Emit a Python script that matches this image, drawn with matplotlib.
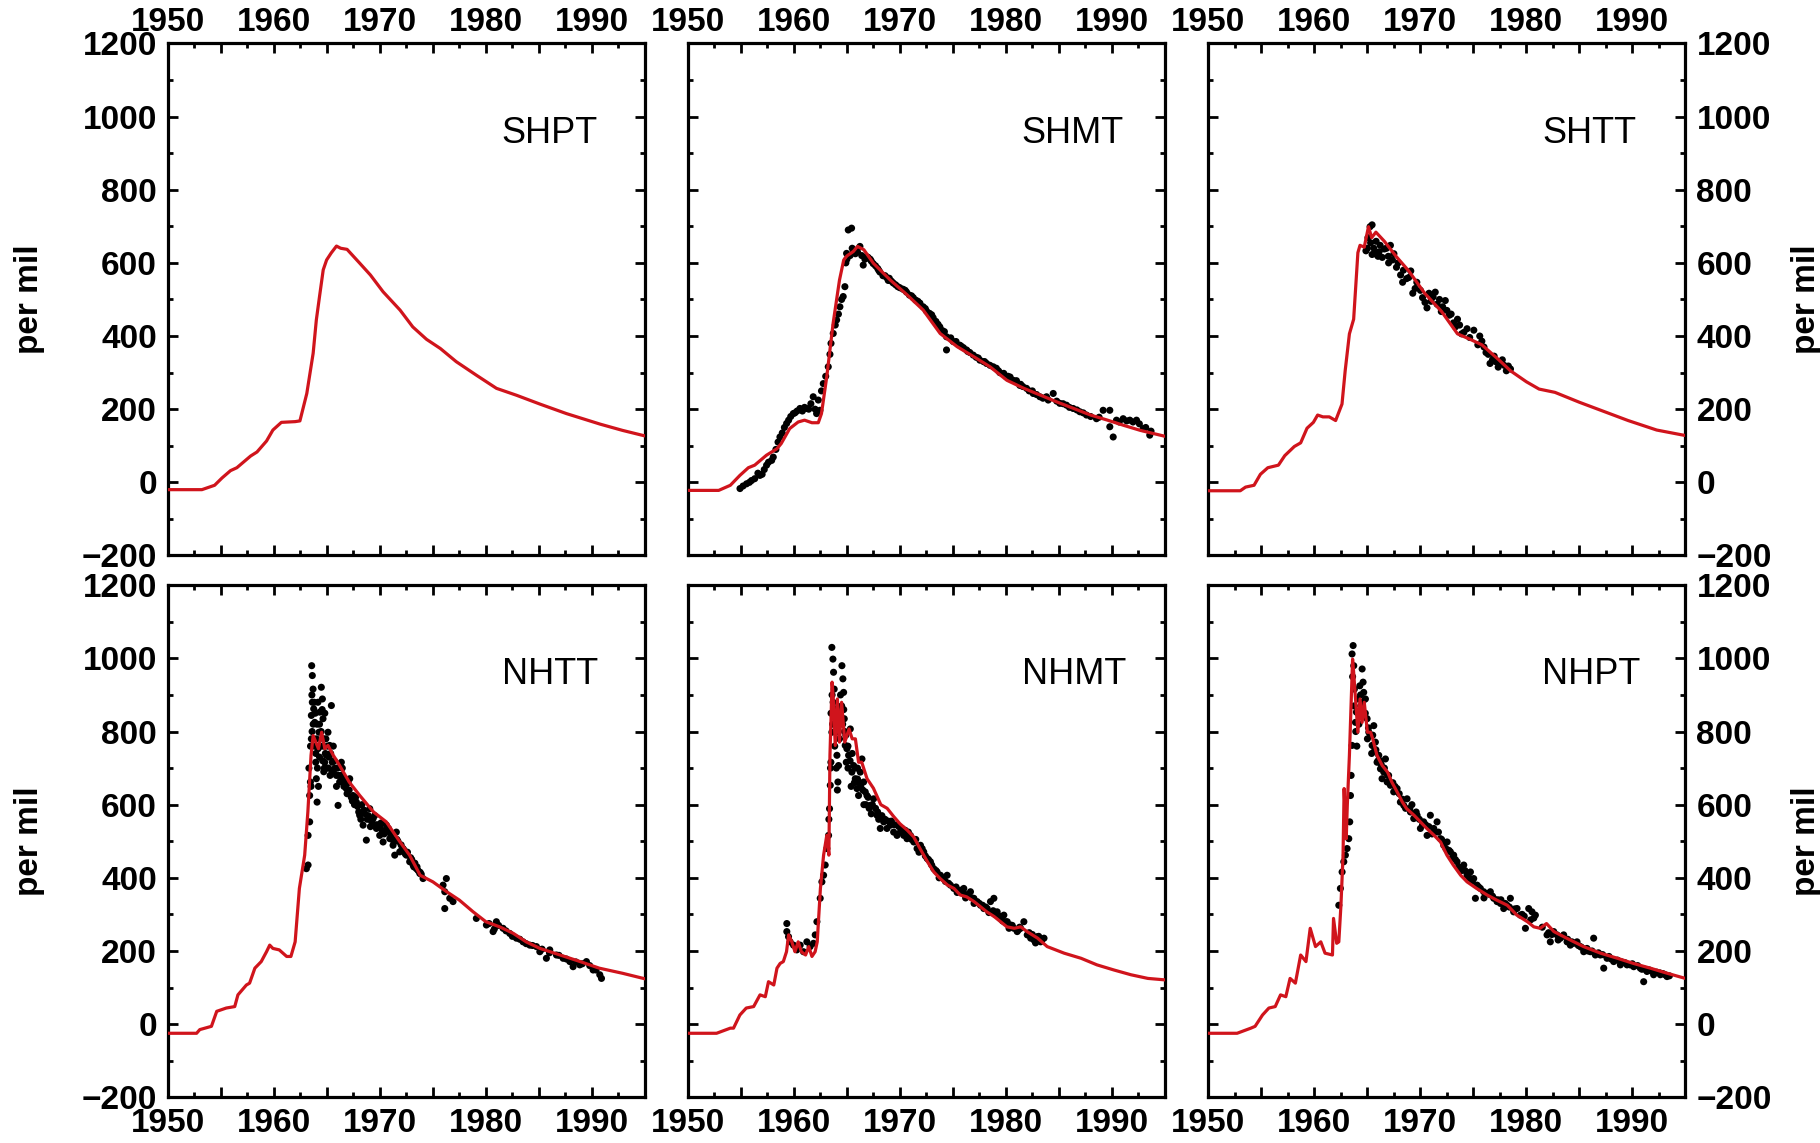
import matplotlib
matplotlib.use("Agg")
import matplotlib.pyplot as plt
from matplotlib.ticker import MultipleLocator, FuncFormatter

plt.rcParams["font.family"] = ["Liberation Sans", "DejaVu Sans"]

# ---- model curves (red) ----
shpt_year = [1950, 1953.2, 1954.4, 1955.1, 1955.9, 1956.5, 1957.8, 1958.4, 1959.3, 1959.9, 1960.7, 1962.0,
             1962.45, 1963.1, 1963.7, 1964.0, 1964.3, 1964.65, 1964.97, 1965.4, 1965.9, 1966.3, 1966.9,
             1968.1, 1969.1, 1970.3, 1971.9, 1973.1, 1974.4, 1975.7, 1977.2, 1979.1, 1981.0, 1982.9,
             1985.1, 1987.6, 1990.8, 1992.9, 1995]
shpt_val = [-20, -20, -8, 12, 32, 40, 72, 83, 113, 143, 164, 166, 168, 243, 353, 444, 508, 581, 608, 627,
            646, 640, 637, 599, 567, 521, 471, 425, 391, 366, 330, 293, 257, 238, 214, 188, 159, 142, 127]

shmt_year = [1950, 1952.9, 1954.0, 1954.9, 1955.7, 1956.3, 1957.4, 1958.4, 1958.8, 1959.6, 1960.4, 1961.0,
             1961.7, 1962.3, 1962.6, 1963.1, 1963.7, 1964.3, 1964.7, 1965.0, 1965.6, 1966.0, 1966.6, 1967.5,
             1969.1, 1970.7, 1972.2, 1973.8, 1975.4, 1977.0, 1978.5, 1980.1, 1981.7, 1983.3, 1984.8, 1986.4,
             1988.0, 1989.6, 1991.1, 1992.7, 1995]
shmt_val = [-22, -22, -8, 19, 40, 47, 74, 92, 106, 147, 165, 170, 163, 163, 188, 289, 435, 553, 608, 619,
            631, 645, 636, 599, 553, 512, 471, 407, 371, 343, 316, 279, 257, 238, 220, 202, 184, 170, 156,
            142, 126]

shtt_year = [1950, 1953.0, 1953.5, 1954.3, 1954.9, 1955.6, 1956.6, 1957.2, 1958.1, 1958.7, 1959.3, 1959.9,
             1960.3, 1960.8, 1961.4, 1962.0, 1962.6, 1962.9, 1963.3, 1963.7, 1964.1, 1964.3, 1964.7, 1965.1,
             1965.4, 1965.8, 1966.6, 1967.7, 1968.9, 1970.4, 1972.0, 1973.5, 1974.7, 1975.8, 1977.4, 1978.5,
             1980.0, 1981.2, 1982.7, 1985.0, 1987.3, 1989.6, 1992.3, 1995]
shtt_val = [-23, -23, -13, -8, 22, 40, 47, 73, 98, 108, 148, 164, 184, 179, 179, 169, 214, 305, 406, 446,
            628, 648, 643, 699, 669, 684, 659, 618, 578, 517, 467, 406, 391, 376, 335, 305, 275, 255, 246,
            219, 194, 169, 143, 128]

nhtt_year = [1950, 1952.7, 1953.0, 1954.1, 1954.6, 1955.5, 1956.3, 1956.6, 1957.4, 1957.7, 1958.2, 1958.8,
             1959.3, 1959.6, 1959.9, 1960.5, 1961.2, 1961.6, 1962.0, 1962.4, 1962.9, 1963.2, 1963.5, 1963.7,
             1964.2, 1964.5, 1964.8, 1965.1, 1965.6, 1966.2, 1967.1, 1968.1, 1969.4, 1970.6, 1971.9, 1972.8,
             1973.8, 1975.0, 1976.3, 1977.5, 1978.8, 1980.0, 1981.3, 1982.6, 1983.8, 1985.1, 1987.0, 1988.9,
             1990.7, 1992.9, 1995]
nhtt_val = [-25, -25, -15, -6, 35, 44, 48, 80, 107, 112, 153, 171, 198, 216, 207, 203, 185, 185, 225, 371,
            462, 580, 735, 789, 753, 798, 753, 762, 735, 707, 662, 625, 580, 553, 498, 462, 407, 389, 362,
            339, 307, 280, 266, 248, 225, 207, 189, 171, 153, 139, 124]

nhmt_year = [1950, 1952.7, 1954.0, 1954.3, 1954.9, 1955.5, 1956.2, 1956.8, 1957.3, 1957.6, 1958.1, 1958.4,
             1958.7, 1959.0, 1959.3, 1959.5, 1959.8, 1960.1, 1960.4, 1960.7, 1961.1, 1961.4, 1961.7, 1962.0,
             1962.2, 1962.5, 1962.8, 1963.1, 1963.3, 1963.4, 1963.6, 1963.7, 1963.9, 1964.1, 1964.3, 1964.5,
             1964.8, 1965.2, 1965.5, 1965.8, 1966.1, 1966.4, 1966.9, 1967.5, 1968.2, 1968.8, 1969.4, 1970.0,
             1970.7, 1971.3, 1971.9, 1972.6, 1973.2, 1973.8, 1974.5, 1975.1, 1975.7, 1976.3, 1977.0, 1977.6,
             1978.2, 1978.9, 1979.5, 1980.1, 1980.8, 1981.4, 1982.0, 1983.0, 1983.9, 1985.5, 1987.1, 1988.6,
             1990.2, 1991.8, 1993.4, 1995]
nhmt_val = [-25, -25, -11, -11, 25, 44, 48, 80, 75, 116, 107, 153, 166, 171, 198, 244, 225, 198, 225, 198,
            189, 212, 185, 198, 225, 371, 462, 516, 462, 735, 935, 898, 762, 889, 771, 880, 771, 807, 780,
            780, 716, 716, 671, 645, 600, 590, 568, 548, 530, 512, 480, 444, 416, 398, 380, 371, 353, 348,
            335, 321, 307, 294, 280, 266, 262, 266, 253, 235, 212, 194, 180, 162, 148, 135, 125, 121]

nhpt_year = [1950, 1952.7, 1954.0, 1954.4, 1955.1, 1955.7, 1956.3, 1956.8, 1957.3, 1957.7, 1958.2, 1958.7,
             1959.2, 1959.6, 1960.1, 1960.6, 1961.0, 1961.7, 1961.8, 1962.1, 1962.3, 1962.5, 1962.7, 1962.8,
             1963.0, 1963.1, 1963.3, 1963.6, 1963.7, 1963.9, 1964.1, 1964.3, 1964.5, 1964.7, 1965.0, 1965.3,
             1965.5, 1965.9, 1966.4, 1966.9, 1967.3, 1967.8, 1968.3, 1968.7, 1969.4, 1970.0, 1970.6, 1971.3,
             1971.9, 1972.5, 1973.1, 1973.8, 1974.4, 1975.3, 1976.3, 1977.2, 1978.2, 1979.1, 1980.1, 1980.7,
             1981.3, 1981.9, 1982.6, 1983.8, 1985.4, 1987.0, 1988.6, 1990.1, 1991.7, 1993.3, 1995]
nhpt_val = [-25, -25, -11, -6, 25, 44, 48, 80, 75, 125, 112, 189, 171, 262, 212, 225, 194, 189, 289, 221,
            225, 325, 462, 644, 507, 598, 735, 998, 962, 880, 798, 889, 825, 880, 798, 798, 780, 735, 707,
            689, 662, 635, 607, 589, 571, 553, 535, 516, 498, 462, 435, 407, 389, 371, 353, 339, 325, 298,
            280, 266, 262, 275, 253, 235, 212, 194, 180, 166, 153, 139, 125]

# ---- observations (black dots) ----
shmt_obs_year = [1954.91, 1955.53, 1956.0, 1956.79, 1957.42, 1958.05, 1958.68, 1959.31, 1959.94, 1960.57,
                 1961.19, 1961.82, 1962.14, 1962.45, 1962.77, 1963.24, 1963.71, 1964.03, 1964.34, 1964.65,
                 1964.81, 1964.97, 1965.13, 1965.44, 1965.6, 1966.23, 1966.54, 1966.86, 1967.48, 1968.11,
                 1968.74, 1969.37, 1970.0, 1970.63, 1971.26, 1971.89, 1972.52, 1973.14, 1973.77, 1974.4,
                 1974.4, 1975.03, 1975.66, 1976.29, 1976.92, 1977.55, 1978.18, 1978.81, 1979.43, 1980.06,
                 1980.69, 1981.32, 1981.95, 1982.58, 1983.21, 1983.84, 1984.47, 1985.09, 1985.72, 1986.35,
                 1986.98, 1987.61, 1988.55, 1989.18, 1989.81, 1990.13, 1989.81, 1990.44, 1991.07, 1991.7,
                 1992.33, 1992.96, 1993.58,
                 1955.2, 1955.8, 1956.3, 1956.6, 1957.0, 1957.2, 1957.6, 1957.9, 1958.3, 1958.5, 1958.9,
                 1959.1, 1959.5, 1959.7, 1960.1, 1960.3, 1960.8, 1961.0, 1961.4, 1961.6, 1962.0, 1962.3,
                 1962.6, 1963.0, 1963.4, 1963.5, 1963.9, 1964.2, 1964.5, 1964.9, 1965.0, 1965.3, 1965.5,
                 1965.8, 1966.0, 1966.4, 1966.7, 1967.0, 1967.2, 1967.7, 1968.0, 1968.4, 1968.9, 1969.2,
                 1969.6, 1970.3, 1970.9, 1971.5, 1972.2, 1972.8, 1973.4, 1974.0, 1974.8, 1975.3, 1976.0,
                 1976.6, 1977.2, 1977.9, 1978.5, 1979.1, 1979.8, 1980.4, 1981.0, 1981.6, 1982.2, 1982.9,
                 1983.5, 1984.0, 1984.8, 1985.4, 1986.0, 1986.7, 1987.3, 1988.0, 1988.8, 1990.7, 1991.4,
                 1992.0, 1992.6, 1993.2, 1993.7,
                 1967.3, 1967.9, 1968.6, 1969.0, 1969.8, 1970.5, 1971.1, 1971.7, 1972.4, 1973.0, 1973.6,
                 1974.2, 1975.8, 1976.4, 1977.4, 1978.0, 1979.3, 1980.2, 1981.4, 1982.5, 1983.8]
shmt_obs_val = [-17, -4, 5, 19, 47, 69, 124, 161, 188, 202, 202, 234, 188, 197, 270, 316, 407, 444, 480, 508,
                535, 626, 690, 695, 631, 645, 594, 617, 598, 575, 560, 545, 532, 520, 505, 490, 468, 450, 425,
                398, 362, 385, 375, 362, 348, 334, 325, 316, 300, 288, 279, 265, 257, 243, 234, 234, 243, 216,
                211, 202, 193, 184, 174, 197, 197, 124, 152, 170, 174, 170, 170, 147, 129,
                -10, 0, 10, 25, 22, 35, 55, 60, 90, 110, 135, 150, 170, 180, 190, 195, 195, 205, 200, 215,
                200, 225, 250, 290, 350, 380, 430, 460, 500, 600, 610, 620, 640, 625, 630, 620, 610, 615,
                610, 592, 580, 565, 552, 550, 540, 528, 512, 498, 480, 462, 440, 415, 395, 385, 368, 355,
                342, 330, 320, 312, 298, 288, 278, 262, 250, 240, 230, 225, 222, 215, 205, 198, 190, 180,
                178, 165, 168, 165, 160, 150, 140,
                605, 585, 565, 558, 535, 525, 510, 495, 475, 458, 432, 412, 372, 358, 340, 330, 305, 290,
                268, 250, 232]

shtt_obs_year = [1964.86, 1965.05, 1965.25, 1965.44, 1965.44, 1965.82, 1966.0, 1966.2, 1966.6, 1966.97,
                 1967.17, 1967.36, 1967.74, 1968.13, 1968.32, 1968.7, 1969.09, 1969.28, 1969.66, 1970.43,
                 1970.62, 1970.81, 1971.2, 1971.58, 1971.97, 1972.35, 1972.73, 1973.12, 1973.5, 1973.89,
                 1974.65, 1975.04, 1975.42, 1975.8, 1976.19, 1976.57, 1976.96, 1977.34, 1977.73, 1978.11,
                 1978.5,
                 1965.0, 1965.3, 1965.6, 1965.7, 1966.1, 1966.4, 1966.8, 1967.0, 1967.5, 1967.9, 1968.4,
                 1968.9, 1969.5, 1970.0, 1970.2, 1971.0, 1971.4, 1971.8, 1972.1, 1972.5, 1972.9, 1973.3,
                 1973.7, 1974.1, 1974.4, 1975.6, 1976.0, 1976.4, 1976.8, 1977.1, 1977.5, 1977.9, 1978.3]
shtt_obs_val = [633, 669, 699, 704, 623, 659, 618, 648, 638, 618, 648, 608, 588, 567, 547, 557, 578, 517,
                547, 492, 477, 517, 507, 487, 467, 497, 457, 436, 446, 406, 396, 416, 376, 386, 355, 325,
                345, 315, 335, 305, 310,
                640, 655, 640, 625, 630, 615, 640, 600, 625, 600, 580, 560, 530, 525, 505, 495, 520, 500,
                480, 470, 460, 425, 430, 410, 420, 400, 370, 350, 335, 330, 325, 320, 318]

nhtt_obs_year = [1963.06, 1963.22, 1963.22, 1963.37, 1963.37, 1963.44, 1963.53, 1963.53, 1963.62, 1963.56,
                 1963.62, 1963.69, 1963.75, 1963.85, 1963.94, 1964.0, 1964.07, 1964.16, 1964.25, 1964.32,
                 1964.47, 1964.57, 1964.63, 1964.69, 1964.79, 1964.95, 1965.1, 1965.26, 1965.42, 1965.51,
                 1965.73, 1965.89, 1966.05, 1966.2, 1966.36, 1966.52, 1966.83, 1967.15, 1967.46, 1967.78,
                 1968.09, 1968.41, 1968.72, 1969.04, 1969.36, 1969.67, 1969.98, 1970.3, 1970.61, 1970.93,
                 1971.24, 1971.4, 1971.55, 1971.87, 1972.18, 1972.5, 1972.81, 1973.13, 1973.44, 1973.76,
                 1974.07, 1975.96, 1976.12, 1976.27, 1976.12, 1976.59, 1976.9, 1979.1, 1980.05, 1980.68,
                 1980.99, 1981.62, 1982.25, 1982.88, 1983.51, 1984.14, 1984.77, 1985.09, 1985.71, 1986.03,
                 1986.66, 1987.29, 1987.92, 1988.23, 1988.86, 1989.49, 1990.12, 1990.75, 1990.91,
                 1963.3, 1963.5, 1963.6, 1963.8, 1963.9, 1964.0, 1964.1, 1964.2, 1964.3, 1964.4, 1964.6,
                 1964.7, 1964.8, 1964.9, 1965.0, 1965.2, 1965.3, 1965.5, 1965.7, 1965.9, 1966.0, 1966.3,
                 1966.6, 1966.9, 1967.0, 1967.3, 1967.6, 1967.9, 1968.2, 1968.5, 1968.8, 1969.1, 1969.5,
                 1969.8, 1970.1, 1970.4, 1970.8, 1971.1, 1971.7, 1972.0, 1972.3, 1972.6, 1973.0, 1973.3,
                 1973.6, 1973.9, 1980.3, 1980.8, 1981.2, 1981.9, 1982.5, 1983.2, 1983.8, 1984.4, 1985.3,
                 1986.0, 1986.9, 1987.6, 1988.5, 1989.1, 1989.8, 1990.4,
                 1963.45, 1963.58, 1963.7, 1963.8, 1963.95, 1964.05, 1964.15, 1964.3, 1964.45, 1964.55,
                 1964.65, 1964.75, 1964.85, 1965.05, 1965.15, 1965.35, 1965.6, 1965.8, 1966.1, 1966.45,
                 1966.7, 1967.1, 1967.4, 1967.7, 1968.0, 1968.3, 1968.6, 1968.9, 1969.2, 1969.6, 1970.0,
                 1970.2, 1970.6, 1971.0, 1971.3, 1971.6, 1972.1, 1972.4, 1972.9, 1973.2, 1973.5, 1973.8]
nhtt_obs_val = [425, 435, 516, 553, 625, 662, 780, 844, 880, 980, 953, 916, 862, 825, 716, 671, 607, 753,
                798, 853, 921, 889, 835, 780, 716, 735, 798, 762, 871, 716, 698, 680, 598, 662, 716, 671,
                644, 671, 625, 607, 571, 544, 503, 589, 562, 535, 516, 498, 544, 507, 489, 462, 525, 471,
                480, 462, 444, 435, 425, 412, 398, 380, 362, 398, 316, 344, 335, 289, 271, 253, 280, 262,
                248, 235, 225, 216, 212, 198, 180, 203, 189, 180, 171, 157, 162, 171, 148, 135, 125,
                700, 650, 800, 760, 850, 780, 700, 650, 820, 760, 720, 690, 850, 780, 700, 730, 680, 690,
                720, 650, 700, 680, 650, 630, 660, 620, 600, 595, 560, 585, 560, 540, 570, 545, 550, 520,
                535, 510, 500, 490, 475, 470, 450, 440, 420, 410, 275, 260, 270, 255, 240, 232, 220, 215,
                205, 195, 188, 178, 170, 165, 160, 148,
                760, 900, 820, 880, 740, 820, 880, 730, 800, 860, 760, 700, 740, 760, 700, 740, 760, 700,
                680, 700, 660, 640, 610, 620, 580, 600, 575, 570, 555, 545, 540, 530, 530, 520, 500, 505,
                480, 465, 455, 430, 430, 415]

nhmt_obs_year = [1959.33, 1959.33, 1959.49, 1959.64, 1959.96, 1960.27, 1960.59, 1960.9, 1961.22, 1961.53,
                 1961.85, 1962.01, 1962.17, 1962.48, 1962.64, 1962.8, 1962.95, 1963.11, 1963.27, 1963.36,
                 1963.43, 1963.49, 1963.58, 1963.58, 1963.68, 1963.74, 1963.8, 1963.9, 1963.99, 1964.06,
                 1964.15, 1964.21, 1964.37, 1964.53, 1964.62, 1964.69, 1964.75, 1964.84, 1964.94, 1965.0,
                 1965.16, 1965.32, 1965.47, 1965.63, 1965.79, 1965.95, 1966.1, 1966.26, 1966.42, 1966.58,
                 1966.73, 1966.89, 1967.21, 1967.52, 1967.84, 1968.15, 1968.47, 1968.78, 1969.1, 1969.41,
                 1969.73, 1970.04, 1970.36, 1970.67, 1970.99, 1971.31, 1971.62, 1971.94, 1972.25, 1972.57,
                 1972.88, 1973.2, 1973.51, 1973.83, 1974.14, 1974.46, 1974.77, 1975.09, 1975.72, 1976.03,
                 1976.35, 1976.66, 1976.98, 1977.29, 1977.61, 1977.92, 1978.24, 1978.55, 1978.87, 1979.18,
                 1979.5, 1979.81, 1980.13, 1980.44, 1980.76, 1981.07, 1981.39, 1981.7, 1982.02, 1982.34,
                 1982.65, 1982.97, 1983.28, 1983.6,
                 1963.3, 1963.5, 1963.7, 1964.0, 1964.1, 1964.3, 1964.5, 1964.8, 1965.1, 1965.4, 1965.7,
                 1966.0, 1966.3, 1966.6, 1967.0, 1967.3, 1967.7, 1968.0, 1968.6, 1969.2, 1969.9, 1970.5,
                 1971.1, 1971.8, 1972.4, 1973.0, 1973.7, 1974.3, 1975.4, 1976.2, 1977.0, 1977.8, 1978.4,
                 1979.0, 1979.7, 1980.3, 1981.2, 1982.2, 1982.8, 1983.4,
                 1963.45, 1963.6, 1963.65, 1963.85, 1964.0, 1964.2, 1964.4, 1964.6, 1964.7, 1964.9, 1965.1,
                 1965.3, 1965.5, 1965.8, 1966.0, 1966.2, 1966.5, 1966.8, 1967.1, 1967.4, 1967.9, 1968.3,
                 1968.9, 1969.5, 1970.2, 1970.8, 1971.5, 1972.1, 1972.7, 1973.4, 1974.0, 1974.6, 1975.3,
                 1976.0, 1976.8, 1977.5, 1978.1, 1978.8, 1979.4, 1980.0, 1980.6, 1981.3, 1982.5, 1983.1]
nhmt_obs_val = [275, 253, 239, 225, 216, 203, 216, 198, 225, 212, 221, 244, 280, 344, 389, 407, 435, 480,
                516, 589, 653, 716, 798, 1030, 998, 962, 916, 862, 798, 735, 662, 707, 825, 980, 944, 907,
                835, 762, 716, 753, 735, 807, 689, 707, 671, 644, 625, 689, 725, 662, 635, 625, 598, 616,
                571, 535, 553, 535, 544, 525, 516, 525, 516, 507, 516, 498, 480, 489, 471, 453, 444, 425,
                416, 407, 398, 407, 380, 371, 366, 371, 353, 362, 344, 335, 325, 316, 316, 335, 344, 307,
                289, 298, 280, 271, 262, 253, 262, 280, 244, 235, 230, 239, 225, 235,
                560, 850, 880, 700, 640, 780, 870, 800, 700, 650, 660, 700, 650, 600, 620, 575, 590, 560,
                560, 555, 540, 530, 505, 470, 460, 435, 400, 390, 360, 345, 330, 325, 305, 300, 282, 262,
                258, 250, 222, 230,
                700, 900, 820, 760, 860, 800, 900, 820, 860, 790, 760, 720, 740, 700, 670, 660, 640, 600,
                590, 600, 580, 570, 555, 545, 535, 525, 505, 480, 450, 420, 400, 385, 375, 360, 345, 330,
                320, 310, 295, 280, 270, 265, 245, 240]

nhpt_obs_year = [1962.3, 1962.45, 1962.61, 1962.77, 1962.92, 1963.08, 1963.24, 1963.33, 1963.4, 1963.46,
                 1963.55, 1963.55, 1963.65, 1963.71, 1963.77, 1963.87, 1963.96, 1964.09, 1964.28, 1964.5,
                 1964.59, 1964.65, 1964.81, 1964.97, 1965.13, 1965.28, 1965.44, 1965.6, 1965.75, 1965.91,
                 1966.07, 1966.23, 1966.38, 1966.54, 1966.7, 1966.86, 1967.17, 1967.48, 1967.8, 1968.11,
                 1968.43, 1968.74, 1969.06, 1969.37, 1969.69, 1970.0, 1970.31, 1970.63, 1970.94, 1971.26,
                 1971.57, 1971.89, 1972.2, 1972.52, 1972.83, 1973.14, 1973.46, 1973.77, 1974.09, 1974.4,
                 1974.72, 1975.03, 1975.19, 1975.35, 1975.66, 1975.97, 1976.29, 1976.6, 1976.92, 1977.23,
                 1977.55, 1977.86, 1978.18, 1978.49, 1978.8, 1979.12, 1979.43, 1979.91, 1980.22, 1980.53,
                 1980.85, 1981.95, 1982.26, 1982.58, 1982.89, 1983.21, 1983.52, 1983.84, 1984.15, 1984.47,
                 1984.78, 1985.09, 1985.41, 1985.72, 1986.04, 1986.35, 1986.51, 1986.98, 1987.3, 1987.61,
                 1988.24, 1988.87, 1989.5, 1990.13, 1990.75, 1991.07, 1991.38, 1992.01, 1992.64, 1993.27,
                 1964.0, 1964.2, 1964.4, 1964.7, 1965.0, 1965.4, 1965.8, 1966.2, 1966.6, 1967.0, 1967.4,
                 1968.0, 1968.6, 1969.2, 1969.9, 1970.5, 1971.1, 1971.7, 1972.4, 1973.0, 1973.6, 1974.2,
                 1974.9, 1976.0, 1976.8, 1977.6, 1978.4, 1979.6, 1980.4, 1982.1, 1983.0, 1983.9, 1984.9,
                 1985.8, 1986.8, 1987.8, 1988.6, 1989.3, 1990.0, 1990.5, 1991.2, 1991.8, 1992.3, 1992.9,
                 1993.5,
                 1963.6, 1963.75, 1963.9, 1964.15, 1964.35, 1964.55, 1964.8, 1965.1, 1965.5, 1965.7, 1966.0,
                 1966.3, 1966.9, 1967.6, 1968.3, 1969.0, 1969.6, 1970.2, 1970.8, 1971.4, 1972.0, 1972.7,
                 1973.3, 1973.9, 1974.6, 1975.5, 1976.5, 1977.3, 1978.0, 1978.9, 1979.8, 1980.7, 1981.5,
                 1982.4, 1983.4, 1984.3, 1985.2, 1986.2, 1987.2, 1988.0, 1989.0, 1989.8, 1990.9, 1991.6,
                 1992.6, 1993.1]
nhpt_obs_val = [325, 371, 416, 444, 462, 480, 507, 553, 625, 680, 762, 1012, 1035, 980, 916, 825, 853, 889,
                925, 971, 935, 907, 889, 835, 798, 789, 762, 816, 771, 716, 735, 698, 671, 689, 725, 662,
                653, 635, 644, 607, 598, 616, 580, 562, 571, 535, 553, 516, 571, 535, 553, 507, 489, 498,
                471, 462, 444, 425, 435, 407, 416, 398, 344, 380, 371, 362, 357, 362, 344, 335, 330, 316,
                325, 344, 307, 316, 298, 262, 316, 307, 298, 244, 225, 253, 244, 235, 244, 225, 216, 221,
                225, 212, 198, 207, 198, 235, 189, 189, 153, 180, 171, 162, 162, 157, 153, 116, 144, 135,
                135, 130,
                760, 820, 870, 850, 780, 740, 750, 720, 700, 680, 660, 630, 590, 600, 560, 545, 520, 525,
                480, 455, 430, 420, 390, 345, 350, 340, 320, 300, 285, 250, 230, 232, 215, 200, 195, 185,
                175, 168, 165, 160, 150, 145, 142, 138, 132,
                950, 870, 800, 850, 900, 880, 850, 810, 790, 750, 720, 710, 680, 650, 615, 590, 580, 545,
                540, 525, 505, 475, 450, 420, 400, 375, 355, 340, 330, 315, 295, 290, 265, 245, 240, 225,
                210, 200, 190, 178, 170, 162, 150, 148, 140, 135]

panels = [
    ("SHPT", shpt_year, shpt_val, None, None),
    ("SHMT", shmt_year, shmt_val, shmt_obs_year, shmt_obs_val),
    ("SHTT", shtt_year, shtt_val, shtt_obs_year, shtt_obs_val),
    ("NHTT", nhtt_year, nhtt_val, nhtt_obs_year, nhtt_obs_val),
    ("NHMT", nhmt_year, nhmt_val, nhmt_obs_year, nhmt_obs_val),
    ("NHPT", nhpt_year, nhpt_val, nhpt_obs_year, nhpt_obs_val),
]

fig = plt.figure(figsize=(18.2, 11.43), dpi=100)

col_left = [0.0923, 0.378, 0.664]
col_w = 0.262
row_bottom = [0.514, 0.040]
row_h = 0.448

red = "#d0141c"
tick_size = 24


def year_label(x, pos):
    return "%d" % round(x) if round(x) % 10 == 0 else ""


for i, (name, my, mv, oy, ov) in enumerate(panels):
    row, col = divmod(i, 3)
    ax = fig.add_axes([col_left[col], row_bottom[row], col_w, row_h])
    if oy is not None:
        ax.scatter(oy, ov, s=26, color="black", edgecolors="none", zorder=2)
    ax.plot(my, mv, color=red, lw=2.3, zorder=3)

    ax.set_xlim(1950, 1995)
    ax.set_ylim(-200, 1200)
    ax.xaxis.set_major_locator(MultipleLocator(5))
    ax.xaxis.set_minor_locator(MultipleLocator(2.5))
    ax.xaxis.set_major_formatter(FuncFormatter(year_label))
    ax.yaxis.set_major_locator(MultipleLocator(200))
    ax.yaxis.set_minor_locator(MultipleLocator(100))

    for s in ax.spines.values():
        s.set_linewidth(2.3)
    ax.tick_params(which="both", direction="in", top=True, right=True, width=2.0)
    ax.tick_params(which="major", length=7.5)
    ax.tick_params(which="minor", length=3.8)
    ax.tick_params(axis="x", which="major", pad=(4 if row == 0 else 8),
                   labeltop=(row == 0), labelbottom=(row == 1))
    ax.tick_params(axis="y", which="major", pad=8,
                   labelleft=(col == 0), labelright=(col == 2))
    for lab in ax.get_xticklabels() + ax.get_yticklabels():
        lab.set_fontsize(tick_size)
        lab.set_fontweight("bold")

    ax.text(0.70, 0.825, name, transform=ax.transAxes, fontsize=26,
            ha="left", va="center")

# y labels; the right-hand one sits right at the figure edge
for row in range(2):
    yc = row_bottom[row] + row_h / 2
    fig.text(0.016, yc, "per mil", rotation=90, ha="center", va="center",
             fontsize=tick_size, fontweight="bold")
    fig.text(0.9925, yc, "per mil", rotation=90, ha="center", va="center",
             fontsize=tick_size, fontweight="bold")

fig.savefig("out.png", dpi=100)
